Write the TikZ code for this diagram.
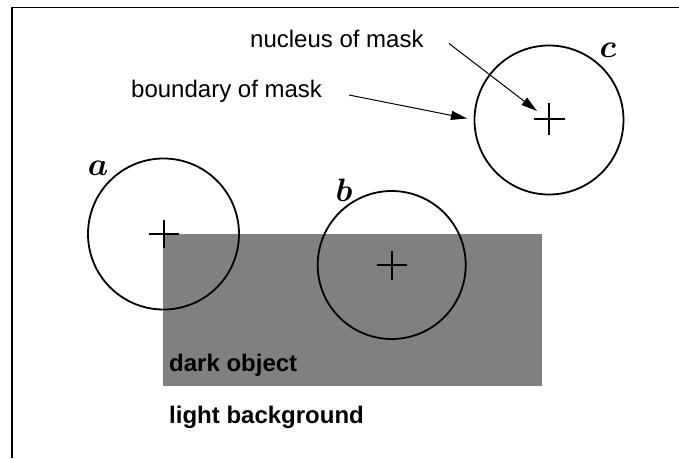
\documentclass[tikz,border=0pt]{standalone}
\usepackage{bm}
\usepackage{fontspec}
\setmainfont{Liberation Sans}
\usetikzlibrary{arrows.meta}
\definecolor{objgray}{RGB}{128,128,128}
\begin{document}
\begin{tikzpicture}[x=1pt,y=-1pt,
  mask/.style={circle, draw, line width=1.8pt, inner sep=0pt},
  nucleus/.style={line width=2pt},
  pointer/.style={line width=1pt, -{Triangle[length=16pt,width=9pt]}},
  txt/.style={font=\fontsize{24}{28}\selectfont, inner sep=0pt, anchor=base west},
  btxt/.style={txt, font=\fontsize{24}{28}\selectfont\bfseries},
  lbl/.style={font=\fontsize{24}{28}\selectfont, inner sep=0pt, scale=1.3},
  frame/.style={line width=1.4pt}]
\useasboundingbox (0,0) rectangle (679,458);
% dark object
\node[fill=objgray, inner sep=0pt, minimum width=379pt, minimum height=152pt, anchor=north west] (obj) at (163,234) {};
% frame
\coordinate (f1) at (12,458);
\coordinate (f2) at (12,7.5);
\coordinate (f3) at (679,7.5);
\draw[frame] (f1) -- (f2) -- (f3);
% masks
\node[mask, minimum size=151pt] (ma) at (163.5,234) {};
\node[mask, minimum size=148pt] (mb) at (391.7,265) {};
\node[mask, minimum size=149pt] (mc) at (549,120) {};
% nuclei
\draw[nucleus] (ma.center) +(-15,0) -- +(15,0) +(0,-14) -- +(0,14);
\draw[nucleus] (mb.center) +(-15,0) -- +(15,0) +(0,-14.5) -- +(0,14.5);
\draw[nucleus] (549,119) +(-15.5,0) -- +(15.5,0) +(0,-16) -- +(0,16);
% labels
\node[lbl] (la) at (98,168) {$\bm{a}$};
\node[lbl] (lb) at (344,190) {$\bm{b}$};
\node[lbl] (lc) at (608,50) {$\bm{c}$};
% texts
\node[txt] (tn) at (250,47) {nucleus of mask};
\node[txt] (tb) at (131,97) {boundary of mask};
\node[btxt] (td) at (169,371) {dark object};
\node[btxt] (tl) at (169,423) {light background};
% pointers
\coordinate (ns) at (449,43.5);
\coordinate (nt) at (537,111);
\coordinate (bs) at (349,95);
\coordinate (bt) at (467,118.5);
\draw[pointer] (ns) -- (nt);
\draw[pointer] (bs) -- (bt);
\end{tikzpicture}
\end{document}
